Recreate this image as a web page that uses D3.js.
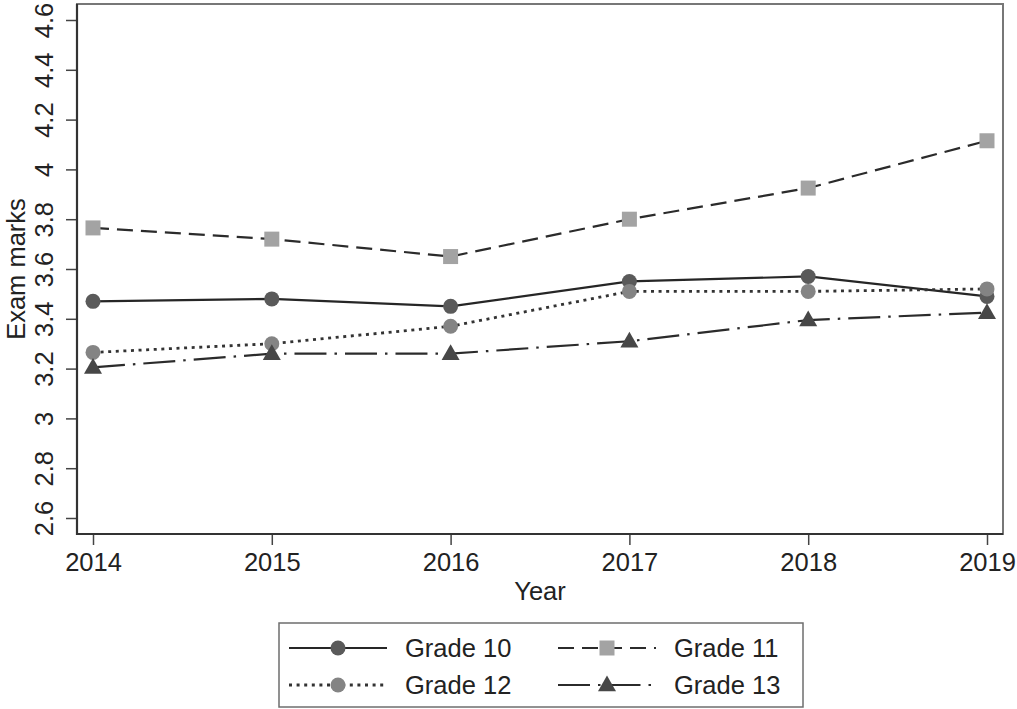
<!DOCTYPE html>
<html>
<head>
<meta charset="utf-8">
<script src="https://cdn.jsdelivr.net/npm/d3@7"></script>
<style>
  html, body { margin: 0; padding: 0; background: #fff; }
  svg { display: block; font-family: "Liberation Sans", Arial, Helvetica, sans-serif; }
</style>
</head>
<body>
<svg id="chart" width="1017" height="709"></svg>
<script>
// Exam marks by year, one series per grade
const years = [2014, 2015, 2016, 2017, 2018, 2019];
const grade10 = [3.47, 3.48, 3.45, 3.55, 3.57, 3.49];
const grade11 = [3.765, 3.72, 3.65, 3.80, 3.925, 4.115];
const grade12 = [3.265, 3.30, 3.37, 3.51, 3.51, 3.52];
const grade13 = [3.205, 3.26, 3.26, 3.31, 3.395, 3.425];
const seriesNames = ["Grade 10", "Grade 11", "Grade 12", "Grade 13"];
const yTicks = [2.6, 2.8, 3, 3.2, 3.4, 3.6, 3.8, 4, 4.2, 4.4, 4.6];

const FS = 25.5;

const styles = {
  "Grade 10": { values: grade10, dash: null, stroke: "#262626", width: 2.2, symbol: "circle", fill: "#5a5a5a" },
  "Grade 11": { values: grade11, dash: "16,8", stroke: "#2b2b2b", width: 2.2, symbol: "square", fill: "#a3a3a3" },
  "Grade 12": { values: grade12, dash: "3,4.6", stroke: "#333", width: 2.8, symbol: "circle", fill: "#848484" },
  "Grade 13": { values: grade13, dash: "32,8,2.5,8", stroke: "#2b2b2b", width: 2.2, symbol: "triangle", fill: "#474747" }
};

const svg = d3.select("#chart");

// Frame of the plot region
const frame = { left: 77, right: 1003, top: 4, bottom: 534 };

const x = d3.scaleLinear().domain([2014, 2019]).range([93, 987]);
const y = d3.scaleLinear().domain([2.6, 4.6]).range([518, 20]);

// Plot frame (top and right edges lighter)
svg.append("rect")
  .attr("x", frame.left).attr("y", frame.top)
  .attr("width", frame.right - frame.left).attr("height", frame.bottom - frame.top)
  .attr("fill", "none").attr("stroke", "#777").attr("stroke-width", 2);

// Y axis
const yAxis = svg.append("g")
  .attr("transform", `translate(${frame.left},0)`)
  .call(d3.axisLeft(y).tickValues(yTicks).tickSize(11).tickFormat(d3.format("")));
yAxis.select(".domain").remove();
yAxis.selectAll(".tick line").attr("stroke", "#444").attr("stroke-width", 1.5);
yAxis.selectAll(".tick text")
  .attr("fill", "#222")
  .attr("font-size", FS)
  .attr("text-anchor", "middle")
  .attr("transform", "rotate(-90)")
  .attr("x", 0)
  .attr("y", -24)
  .attr("dy", "0");

// X axis
const xAxis = svg.append("g")
  .attr("transform", `translate(0,${frame.bottom})`)
  .call(d3.axisBottom(x).tickValues(years).tickSize(11).tickPadding(8).tickFormat(d3.format("d")));
xAxis.select(".domain").remove();
xAxis.selectAll(".tick line").attr("stroke", "#444").attr("stroke-width", 1.5);
xAxis.selectAll(".tick text").attr("fill", "#222").attr("font-size", FS);

// Axis lines
svg.append("line")
  .attr("x1", frame.left).attr("x2", frame.left)
  .attr("y1", frame.top).attr("y2", frame.bottom + 1)
  .attr("stroke", "#333").attr("stroke-width", 2.2);
svg.append("line")
  .attr("x1", frame.left - 1).attr("x2", frame.right)
  .attr("y1", frame.bottom).attr("y2", frame.bottom)
  .attr("stroke", "#333").attr("stroke-width", 2.2);

// Axis titles
svg.append("text")
  .attr("x", x(2016.5)).attr("y", 600)
  .attr("text-anchor", "middle").attr("font-size", FS).attr("fill", "#222")
  .text("Year");
svg.append("text")
  .attr("transform", `translate(25,${(frame.top + frame.bottom) / 2}) rotate(-90)`)
  .attr("text-anchor", "middle").attr("font-size", FS).attr("fill", "#222")
  .text("Exam marks");

// Marker drawing
function drawMarker(g, type, cx, cy, fill) {
  if (type === "circle") {
    g.append("circle").attr("cx", cx).attr("cy", cy).attr("r", 7.5).attr("fill", fill);
  } else if (type === "square") {
    g.append("rect").attr("x", cx - 7.5).attr("y", cy - 7.5).attr("width", 15).attr("height", 15).attr("fill", fill);
  } else {
    const s = 9;
    g.append("path")
      .attr("d", `M${cx},${cy - s * 1.05} L${cx + s},${cy + s * 0.7} L${cx - s},${cy + s * 0.7} Z`)
      .attr("fill", fill);
  }
}

const line = d3.line().x((d, i) => x(years[i])).y(d => y(d));

// Series lines first, then markers on top
const plot = svg.append("g");
seriesNames.forEach(name => {
  const st = styles[name];
  plot.append("path")
    .datum(st.values)
    .attr("d", line)
    .attr("fill", "none")
    .attr("stroke", st.stroke)
    .attr("stroke-width", st.width)
    .attr("stroke-dasharray", st.dash);
});
seriesNames.forEach(name => {
  const st = styles[name];
  const g = plot.append("g");
  st.values.forEach((v, i) => drawMarker(g, st.symbol, x(years[i]), y(v), st.fill));
});

// Legend
const legend = svg.append("g");
legend.append("rect")
  .attr("x", 279).attr("y", 623).attr("width", 524).attr("height", 84)
  .attr("fill", "#fff").attr("stroke", "#6e6e6e").attr("stroke-width", 1.5);

const legendPos = [
  { name: "Grade 10", x0: 289, cy: 648 },
  { name: "Grade 11", x0: 558, cy: 648 },
  { name: "Grade 12", x0: 289, cy: 685 },
  { name: "Grade 13", x0: 558, cy: 685 }
];
legendPos.forEach(p => {
  const st = styles[p.name];
  legend.append("line")
    .attr("x1", p.x0).attr("x2", p.x0 + 98)
    .attr("y1", p.cy).attr("y2", p.cy)
    .attr("stroke", st.stroke).attr("stroke-width", st.width)
    .attr("stroke-dasharray", st.dash);
  drawMarker(legend, st.symbol, p.x0 + 49, p.cy, st.fill);
  legend.append("text")
    .attr("x", p.x0 + 116).attr("y", p.cy + 9)
    .attr("font-size", FS).attr("fill", "#222")
    .text(p.name);
});
</script>
</body>
</html>
